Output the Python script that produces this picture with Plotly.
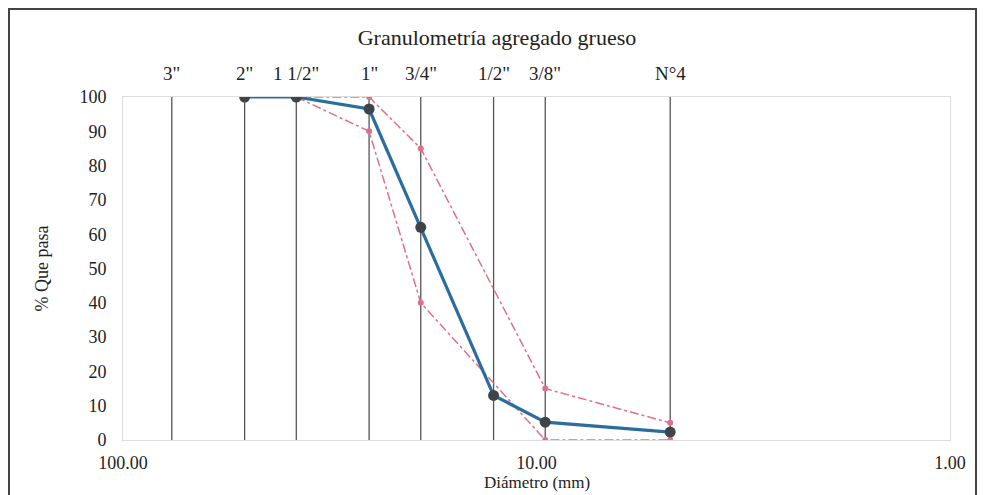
import math
import plotly.graph_objects as go

# Sieve sizes (mm) and labels
sieve_mm = [76.2, 50.8, 38.1, 25.4, 19.05, 12.7, 9.525, 4.75]
sieve_lbl = ['3"', '2"', '1 1/2"', '1"', '3/4"', '1/2"', '3/8"', 'N°4']

# Sample gradation
sample_mm = [50.8, 38.1, 25.4, 19.05, 12.7, 9.525, 4.75]
sample_pass = [100, 100, 96.5, 62, 13, 5.2, 2.3]

# Specification limits
lim_mm = [38.1, 25.4, 19.05, 9.525, 4.75]
upper_pass = [100, 100, 85, 15, 5]
lower_pass = [100, 90, 40, 0, 0]

x_ticks = [100, 10, 1]
x_ticktext = ["100.00", "10.00", "1.00"]
y_ticks = list(range(0, 101, 10))

SERIF = "Liberation Serif, Times New Roman, serif"

W, H = 970, 487
L, T, PW, PH = 115, 89, 827, 343

fig = go.Figure()

# vertical sieve lines
vx, vy = [], []
for s in sieve_mm:
    vx += [s, s, None]
    vy += [0, 100, None]
fig.add_trace(go.Scatter(x=vx, y=vy, mode="lines",
                         line=dict(color="#555555", width=1.3),
                         hoverinfo="skip", showlegend=False))

pink = "#E0708A"
fig.add_trace(go.Scatter(x=lim_mm, y=upper_pass, mode="lines+markers",
                         line=dict(color=pink, width=1.5, dash="dashdot"),
                         marker=dict(color=pink, size=6), showlegend=False))
fig.add_trace(go.Scatter(x=lim_mm, y=lower_pass, mode="lines+markers",
                         line=dict(color=pink, width=1.5, dash="dashdot"),
                         marker=dict(color=pink, size=6), showlegend=False))
fig.add_trace(go.Scatter(x=sample_mm, y=sample_pass, mode="lines+markers",
                         line=dict(color="#2B6E9E", width=3.2),
                         marker=dict(color="#3F4448", size=11), showlegend=False))

for s, l in zip(sieve_mm, sieve_lbl):
    fig.add_annotation(x=math.log10(s), y=1, xref="x", yref="paper",
                       text=l, showarrow=False, yanchor="middle", yshift=24,
                       font=dict(family=SERIF, size=19, color="#222"))

# x-axis title (placed like the reference, near the bottom edge)
fig.add_annotation(x=0.5, y=(T + PH - 486) / PH, xref="paper", yref="paper",
                   text="Diámetro (mm)", showarrow=False, yanchor="bottom",
                   font=dict(family=SERIF, size=17, color="#222"))

# outer frame
fig.add_shape(type="rect", xref="paper", yref="paper",
              x0=(1 - L) / PW, x1=(968 - L) / PW,
              y0=(T + PH - 520) / PH, y1=(T + PH - 1) / PH,
              line=dict(color="#444", width=2), layer="below")

fig.update_layout(
    width=W, height=H,
    margin=dict(l=L, r=W - L - PW, t=T, b=H - T - PH, autoexpand=False),
    paper_bgcolor="white", plot_bgcolor="white",
    title=dict(text="Granulometría agregado grueso", x=(497 - 8) / W,
               xref="container", xanchor="center",
               y=1 - 29 / H, yanchor="middle",
               font=dict(family=SERIF, size=22, color="#222")),
    font=dict(family=SERIF, size=18, color="#222"),
    xaxis=dict(type="log", range=[2, 0], tickvals=x_ticks, ticktext=x_ticktext,
               showgrid=False, zeroline=False, showline=True, mirror=True,
               linecolor="#dddddd", linewidth=1, ticks="", ticklabelstandoff=6,
               automargin=False),
    yaxis=dict(range=[0, 100], tickvals=y_ticks, showgrid=False, zeroline=False,
               showline=True, mirror=True, linecolor="#dddddd", linewidth=1,
               ticks="", ticklabelstandoff=12, automargin=False,
               title=dict(text="% Que pasa", standoff=26,
                          font=dict(family=SERIF, size=18))),
)

fig.write_html("out.html")
